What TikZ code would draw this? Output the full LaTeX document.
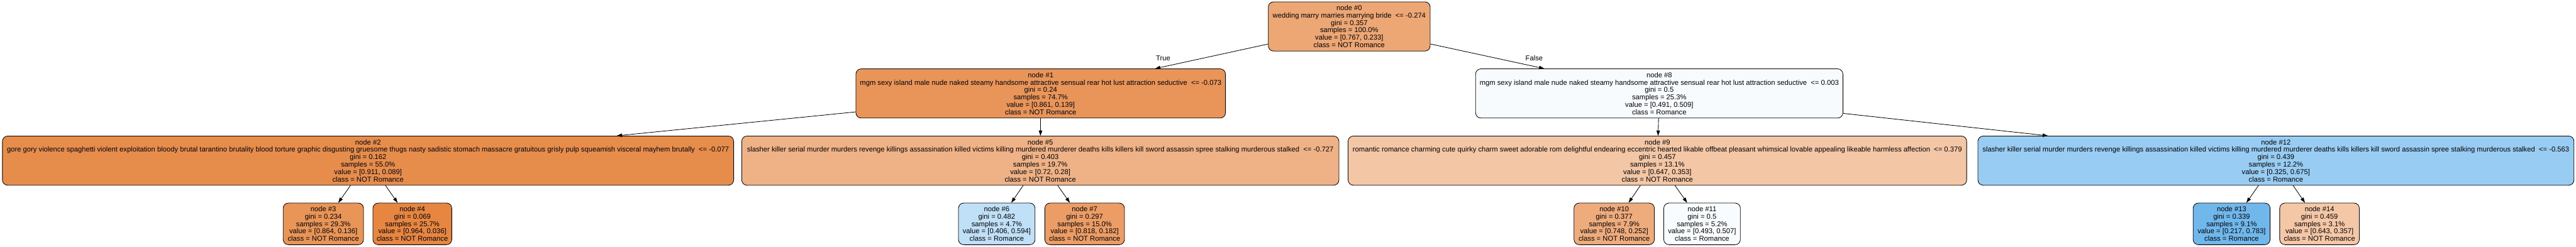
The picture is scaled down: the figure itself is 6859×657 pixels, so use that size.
\documentclass[tikz,border=0pt]{standalone}
\usepackage{fontspec}
\setmainfont{Liberation Sans}
\usetikzlibrary{arrows.meta}
\definecolor{c0}{RGB}{237,167,117}
\definecolor{c1}{RGB}{233,149,89}
\definecolor{c2}{RGB}{231,141,76}
\definecolor{c3}{RGB}{233,149,88}
\definecolor{c4}{RGB}{230,134,64}
\definecolor{c5}{RGB}{239,178,134}
\definecolor{c6}{RGB}{192,224,247}
\definecolor{c7}{RGB}{235,157,101}
\definecolor{c8}{RGB}{248,251,254}
\definecolor{c9}{RGB}{243,198,165}
\definecolor{c10}{RGB}{238,171,124}
\definecolor{c11}{RGB}{249,252,254}
\definecolor{c12}{RGB}{152,204,242}
\definecolor{c13}{RGB}{112,184,236}
\definecolor{c14}{RGB}{244,199,167}
\begin{document}
\begin{tikzpicture}[x=0.5pt,y=-0.5pt,
  tnode/.style={draw=black, line width=0.7pt, rounded corners=7pt, align=center,
    font=\fontsize{9.4}{9.85}\selectfont, inner sep=0pt, anchor=center},
  inner/.style={tnode, minimum height=65.5pt},
  leaf/.style={tnode, minimum height=55.5pt},
  edge/.style={-{Triangle[length=7pt,width=4.6pt]}, line width=0.7pt},
  lbl/.style={font=\fontsize{9.4}{9.85}\selectfont, inner sep=0pt}]
\useasboundingbox[fill=white] (0,0) rectangle (6859,657);
% level 0
\node[inner, fill=c0, minimum width=215.5pt] (n0) at (3592.5,70.5)
  {node \#0\\wedding marry marries marrying bride~~<= -0.274\\gini = 0.357\\samples = 100.0\%\\value = [0.767, 0.233]\\class = NOT Romance};
% level 1
\node[inner, fill=c1, minimum width=492pt] (n1) at (2771,249)
  {node \#1\\mgm sexy island male nude naked steamy handsome attractive sensual rear hot lust attraction seductive~~<= -0.073\\gini = 0.24\\samples = 74.7\%\\value = [0.861, 0.139]\\class = NOT Romance};
\node[inner, fill=c8, minimum width=489pt] (n8) at (4418,249)
  {node \#8\\mgm sexy island male nude naked steamy handsome attractive sensual rear hot lust attraction seductive~~<= 0.003\\gini = 0.5\\samples = 25.3\%\\value = [0.491, 0.509]\\class = Romance};
% level 2
\node[inner, fill=c2, minimum width=973.5pt] (n2) at (980,428)
  {node \#2\\gore gory violence spaghetti violent exploitation bloody brutal tarantino brutality blood torture graphic disgusting gruesome thugs nasty sadistic stomach massacre gratuitous grisly pulp squeamish visceral mayhem brutally~~<= -0.077\\gini = 0.162\\samples = 55.0\%\\value = [0.911, 0.089]\\class = NOT Romance};
\node[inner, fill=c5, minimum width=795pt] (n5) at (2770,428)
  {node \#5\\slasher killer serial murder murders revenge killings assassination killed victims killing murdered murderer deaths kills killers kill sword assassin spree stalking murderous stalked~~<= -0.727\\gini = 0.403\\samples = 19.7\%\\value = [0.72, 0.28]\\class = NOT Romance};
\node[inner, fill=c9, minimum width=823.5pt] (n9) at (4413,428)
  {node \#9\\romantic romance charming cute quirky charm sweet adorable rom delightful endearing eccentric hearted likable offbeat pleasant whimsical lovable appealing likeable harmless affection~~<= 0.379\\gini = 0.457\\samples = 13.1\%\\value = [0.647, 0.353]\\class = NOT Romance};
\node[inner, fill=c12, minimum width=793.5pt] (n12) at (6060,428)
  {node \#12\\slasher killer serial murder murders revenge killings assassination killed victims killing murdered murderer deaths kills killers kill sword assassin spree stalking murderous stalked~~<= -0.563\\gini = 0.439\\samples = 12.2\%\\value = [0.325, 0.675]\\class = Romance};
% level 3
\node[leaf, fill=c3, minimum width=107pt] (n3) at (861,596.5)
  {node \#3\\gini = 0.234\\samples = 29.3\%\\value = [0.864, 0.136]\\class = NOT Romance};
\node[leaf, fill=c4, minimum width=105pt] (n4) at (1098,596.5)
  {node \#4\\gini = 0.069\\samples = 25.7\%\\value = [0.964, 0.036]\\class = NOT Romance};
\node[leaf, fill=c6, minimum width=102pt] (n6) at (2654,596.5)
  {node \#6\\gini = 0.482\\samples = 4.7\%\\value = [0.406, 0.594]\\class = Romance};
\node[leaf, fill=c7, minimum width=106pt] (n7) at (2888,596.5)
  {node \#7\\gini = 0.297\\samples = 15.0\%\\value = [0.818, 0.182]\\class = NOT Romance};
\node[leaf, fill=c10, minimum width=107pt] (n10) at (4298,596.5)
  {node \#10\\gini = 0.377\\samples = 7.9\%\\value = [0.748, 0.252]\\class = NOT Romance};
\node[leaf, fill=c11, minimum width=102pt] (n11) at (4532,596.5)
  {node \#11\\gini = 0.5\\samples = 5.2\%\\value = [0.493, 0.507]\\class = Romance};
\node[leaf, fill=c13, minimum width=102.5pt] (n13) at (5942,596.5)
  {node \#13\\gini = 0.339\\samples = 9.1\%\\value = [0.217, 0.783]\\class = Romance};
\node[leaf, fill=c14, minimum width=106pt] (n14) at (6176,596.5)
  {node \#14\\gini = 0.459\\samples = 3.1\%\\value = [0.643, 0.357]\\class = NOT Romance};
% edges
\draw[edge] (n0) -- (n1);
\draw[edge] (n0) -- (n8);
\draw[edge] (n1) -- (n2);
\draw[edge] (n1) -- (n5);
\draw[edge] (n2) -- (n3);
\draw[edge] (n2) -- (n4);
\draw[edge] (n5) -- (n6);
\draw[edge] (n5) -- (n7);
\draw[edge] (n8) -- (n9);
\draw[edge] (n8) -- (n12);
\draw[edge] (n9) -- (n10);
\draw[edge] (n9) -- (n11);
\draw[edge] (n12) -- (n13);
\draw[edge] (n12) -- (n14);
% branch labels
\node[lbl] (ltrue) at (3097,155) {True};
\node[lbl] (lfalse) at (4085,155) {False};
\end{tikzpicture}
\end{document}
